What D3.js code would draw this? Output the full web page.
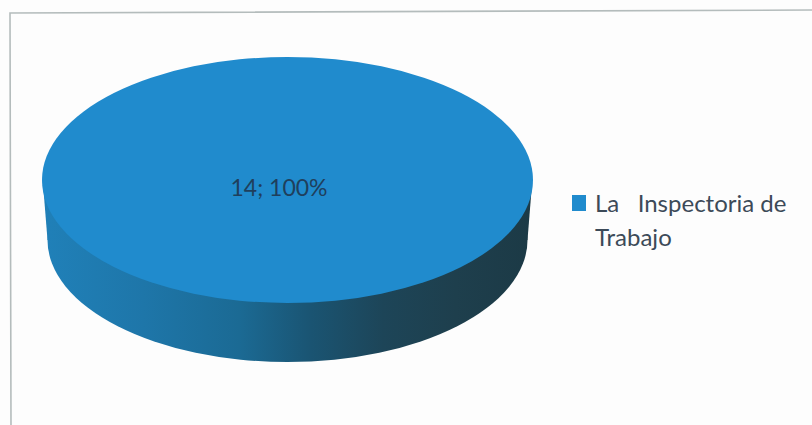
<!DOCTYPE html>
<html><head><meta charset="utf-8">
<script src="https://cdn.jsdelivr.net/npm/d3@7"></script>
<style>html,body{margin:0;padding:0;background:#fdfdfd;overflow:hidden}svg{display:block}text{font-family:Lato,"Open Sans",sans-serif;white-space:pre}</style>
</head><body><div id="c"></div>
<script>
const categories = ["La   Inspectoria de Trabajo"];
const legendLines = ["La   Inspectoria de", "Trabajo"];
const values = [14];
const percents = ["100%"];
const colors = ["#208bcd"];

const W = 812, H = 425;
const svg = d3.select("#c").append("svg").attr("width", W).attr("height", H);

const defs = svg.append("defs");
const grad = defs.append("linearGradient").attr("id", "wall")
  .attr("x1", 0).attr("x2", 1).attr("y1", 0).attr("y2", 0);
[[0, "#2080b8"], [0.2, "#1e76a9"], [0.4, "#1b6a94"], [0.55, "#1a5472"], [0.7, "#1d4558"], [0.85, "#1e3f4d"], [1, "#1c3a46"]]
  .forEach(([o, c]) => grad.append("stop").attr("offset", o).attr("stop-color", c));

// frame (slightly skewed like the scanned original)
const frame = d3.line();
svg.append("path").attr("d", frame([[812, 10], [10, 13], [11, 425]]))
  .attr("fill", "none").attr("stroke", "#b4bcbc").attr("stroke-width", 1.6);

// pie
const cx = 287.5, cy = 180, rx = 245.5, ry = 123;
const depth = 60, lowerRx = 240, lowerRy = 122;
const pie = d3.pie().sort(null)(values);
const arc = d3.arc().innerRadius(0).outerRadius(1);
const wrap = svg.append("g");

// wall: lower ellipse, plus the band joining it to the top face
wrap.append("g").attr("transform", `translate(${cx},${cy + depth}) scale(${lowerRx},${lowerRy})`)
  .selectAll("path").data(pie).join("path").attr("d", arc).attr("fill", "url(#wall)");
wrap.append("path")
  .attr("d", d3.line()([[cx - rx + 1, cy + 4], [cx + rx - 1, cy + 4], [cx + lowerRx, cy + depth], [cx - lowerRx, cy + depth]]) + "Z")
  .attr("fill", "url(#wall)");

// top face
wrap.append("g").attr("transform", `translate(${cx},${cy}) scale(${rx},${ry})`)
  .selectAll("path").data(pie).join("path").attr("d", arc).attr("fill", (d, i) => colors[i]);

// data label
svg.append("text").attr("x", 279).attr("y", 196).attr("text-anchor", "middle")
  .attr("font-size", 23).attr("fill", "#1f3f5c")
  .text(`${values[0]}; ${percents[0]}`);

// legend
svg.append("rect").attr("x", 572).attr("y", 195).attr("width", 14).attr("height", 16).attr("fill", colors[0]);
svg.selectAll("text.leg").data(legendLines).join("text").attr("class", "leg")
  .attr("x", 595).attr("y", (d, i) => 212 + i * 34)
  .attr("font-size", 24).attr("fill", "#3c4a58").text(d => d);
</script></body></html>
